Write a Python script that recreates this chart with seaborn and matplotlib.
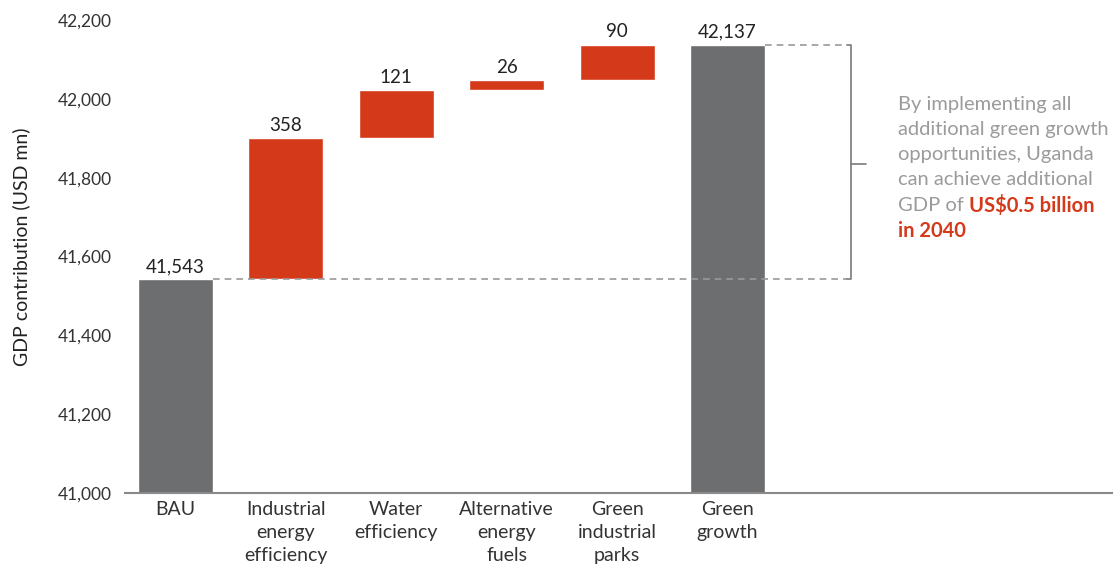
import numpy as np
import pandas as pd
import matplotlib
matplotlib.use("Agg")
import matplotlib.pyplot as plt
import seaborn as sns

# -------- Data --------
categories = ["BAU", "Industrial\nenergy\nefficiency", "Water\nefficiency",
              "Alternative\nenergy\nfuels", "Green\nindustrial\nparks", "Green\ngrowth"]
bau_value = 41543
increments = [358, 121, 26, 90]
total_value = 42137
value_labels = ["41,543", "358", "121", "26", "90", "42,137"]
y_ticks = [41000, 41200, 41400, 41600, 41800, 42000, 42200]

GREY = "#6d6e70"
RED = "#d43a1a"
TEXT_GREY = "#9b9b9b"

# ---- waterfall geometry ----
bases = [0] + list(bau_value + np.cumsum([0] + increments[:-1])) + [0]
tops = [bau_value] + list(bau_value + np.cumsum(increments)) + [total_value]
df = pd.DataFrame({"category": categories, "base": bases, "top": tops})
colors = [GREY, RED, RED, RED, RED, GREY]

sns.set_theme(style="white")
plt.rcParams["font.family"] = ["Lato", "DejaVu Sans"]

fig = plt.figure(figsize=(11.13, 5.74), dpi=100)
ax = fig.add_axes([0.112, 0.141, 0.888, 0.824])

sns.barplot(data=df, x="category", y="top", hue="category", palette=colors,
            width=0.68, legend=False, ax=ax, saturation=1, zorder=2)
# white bases hide the lower part of the floating bars
sns.barplot(data=df, x="category", y="base", color="white",
            width=0.68, ax=ax, saturation=1, zorder=3)

ax.set_ylim(41000, 42200)
ax.set_xlim(-0.46, 8.49)
ax.set_yticks(y_ticks)
ax.set_yticklabels([f"{t:,}" for t in y_ticks])
ax.tick_params(axis="y", length=0, pad=9, labelsize=12.5, labelcolor="#333333")
ax.tick_params(axis="x", length=0, pad=6, labelsize=14, labelcolor="#333333")
for lab in ax.get_xticklabels():
    lab.set_linespacing(1.42)
ax.set_xlabel("")
ax.set_ylabel("GDP contribution (USD mn)", fontsize=14, color="#222222")
ax.yaxis.set_label_coords(-0.096, 0.52)

for s in ["left", "right", "top"]:
    ax.spines[s].set_visible(False)
ax.spines["bottom"].set_color("#8a8a8a")
ax.spines["bottom"].set_linewidth(1.5)
ax.spines["bottom"].set_zorder(5)

# value labels
for i, lab in enumerate(value_labels):
    ax.annotate(lab, (i, tops[i]), xytext=(0, 3), textcoords="offset points",
                ha="center", va="bottom", fontsize=13.5, color="#222222", zorder=6)

# dashed reference lines and bracket
bx = 6.12
dash = dict(color="#9a9a9a", lw=1.2, ls=(0, (4, 3)), zorder=4)
ax.plot([0.34, bx - 0.04], [bau_value, bau_value], **dash)
ax.plot([5.34, bx - 0.04], [total_value, total_value], **dash)
mid = (bau_value + total_value) / 2 - 5
ax.plot([bx - 0.04, bx, bx, bx - 0.04], [bau_value, bau_value, total_value, total_value],
        color="#7a7a7a", lw=1.2, zorder=4)
ax.plot([bx, bx + 0.13], [mid, mid], color="#7a7a7a", lw=1.2, zorder=4)

# annotation text
lines = ["By implementing all", "additional green growth", "opportunities, Uganda",
         "can achieve additional"]
tx = 6.54
trans = ax.get_xaxis_transform()
top_y = (493 - 104) / 473
step = 25.3 / 473
for k, line in enumerate(lines):
    ax.text(tx, top_y - k * step, line, transform=trans,
            fontsize=14.5, color=TEXT_GREY, va="center", ha="left")
t_gdp = ax.text(tx, top_y - 4 * step, "GDP of ", transform=trans,
                fontsize=14.5, color=TEXT_GREY, va="center", ha="left")
ax.annotate("US$0.5 billion", xy=(1, 0.5), xycoords=t_gdp, xytext=(0, 0),
            textcoords="offset points", fontsize=14.5, color=RED, fontweight="bold",
            va="center", ha="left")
ax.text(tx, top_y - 5 * step, "in 2040", transform=trans,
        fontsize=14.5, color=RED, fontweight="bold", va="center", ha="left")

fig.savefig("out.png", dpi=100)
